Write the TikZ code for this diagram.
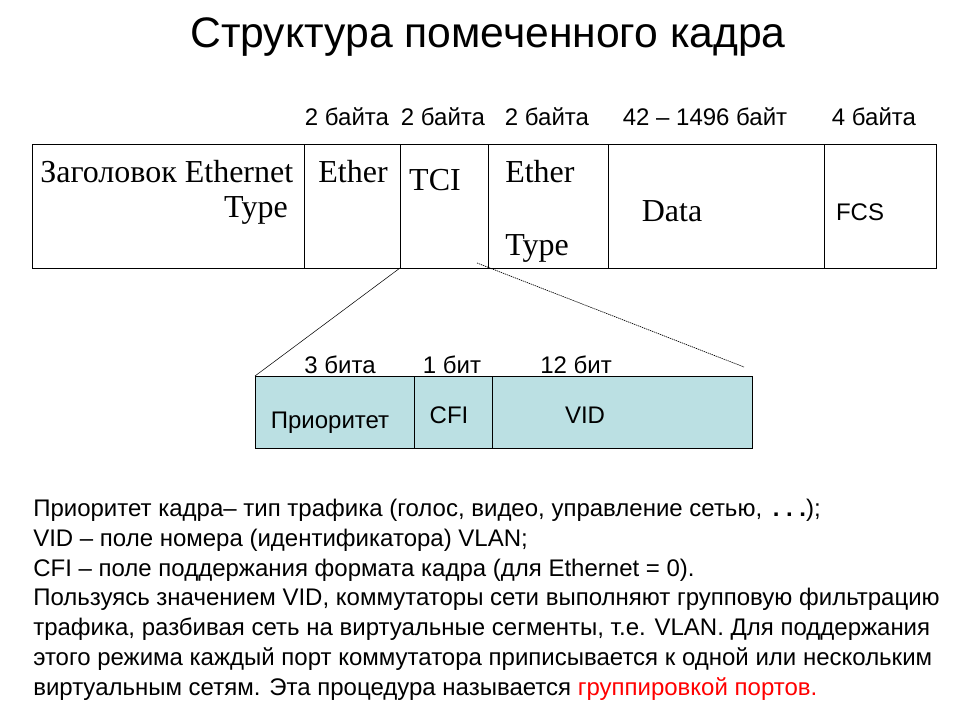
\documentclass[tikz,border=0pt]{standalone}
\usepackage{fontspec}
\setmainfont{Liberation Sans}
\newfontfamily\serifface{Liberation Serif}
\usetikzlibrary{positioning}
\definecolor{tagfill}{RGB}{187,224,227}
\definecolor{portred}{RGB}{255,0,0}
\tikzstyle{field}=[draw, inner sep=0pt, outer sep=0pt, minimum height=93pt, anchor=north west]
\tikzstyle{bitfield}=[draw, fill=tagfill, inner sep=0pt, outer sep=0pt, minimum height=54pt, anchor=north west]
\tikzstyle{bytelabel}=[inner sep=0pt, font=\fontsize{18}{21}\selectfont]
\tikzstyle{rmlabel}=[inner sep=0pt, font=\serifface\fontsize{24}{28}\selectfont]

\begin{document}
\begin{tikzpicture}[x=0.75pt, y=-0.75pt]
    \useasboundingbox (0,0) rectangle (960,720);
    \node[inner sep=0pt, font=\fontsize{32}{38}\selectfont] (title) at (488,37) {Структура помеченного кадра};

    % tagged frame
    \node[field, minimum width=204pt] (hdr) at (32,144) {};
    \node[field, minimum width=72pt] (eth1) at (hdr.north east) {};
    \node[field, minimum width=66pt] (tci) at (eth1.north east) {};
    \node[field, minimum width=90pt] (eth2) at (tci.north east) {};
    \node[field, minimum width=162pt] (data) at (eth2.north east) {};
    \node[field, minimum width=84pt] (fcs) at (data.north east) {};

    \node[bytelabel] (sz1) at (347,117) {2 байта};
    \node[bytelabel] (sz2) at (443,117) {2 байта};
    \node[bytelabel] (sz3) at (547,117) {2 байта};
    \node[bytelabel] (sz4) at (705,117) {42 – 1496 байт};
    \node[bytelabel] (sz5) at (874,117) {4 байта};

    \node[rmlabel, anchor=west] (hdrtxt) at (40,172) {Заголовок Ethernet};
    \node[rmlabel, anchor=east] (hdrtype) at (288,210) {Type};
    \node[rmlabel] (eth1txt) at (353,172) {Ether};
    \node[rmlabel] (tcitxt) at (435,180) {TCI};
    \node[rmlabel, anchor=west] (eth2txt) at (505,172) {Ether};
    \node[rmlabel, anchor=west] (eth2type) at (505,248) {Type};
    \node[rmlabel] (datatxt) at (672,211) {Data};
    \node[bytelabel] (fcstxt) at (860,212) {FCS};

    % TCI fields
    \node[bitfield, minimum width=119.25pt] (prio) at (255,376) {};
    \node[bitfield, minimum width=58.5pt] (cfi) at (prio.north east) {};
    \node[bitfield, minimum width=195pt] (vid) at (cfi.north east) {};

    \node[bytelabel] (bits1) at (340,365) {3 бита};
    \node[bytelabel] (bits2) at (452,365) {1 бит};
    \node[bytelabel] (bits3) at (576,365) {12 бит};
    \node[bytelabel] (priotxt) at (330,423) {Приоритет};
    \node[bytelabel] (cfitxt) at (449,415) {CFI};
    \node[bytelabel] (vidtxt) at (585,415) {VID};

    \coordinate (zoomR) at (477,263);
    \coordinate (zoomRend) at (744,367);
    \draw[thin] (tci.south west) -- (prio.north west);
    \draw[line width=0.5pt, dash pattern=on 1pt off 0.6pt] (zoomR) -- (zoomRend);

    % explanation
    \node[inner sep=0pt, anchor=north west, align=left, font=\fontsize{18}{22.3}\selectfont] (notes) at (33,499) {%
        Приоритет кадра– тип трафика (голос, видео, управление сетью, \textbf{\,.~.~.});\\
        VID – поле номера (идентификатора) VLAN;\\
        CFI – поле поддержания формата кадра (для Ethernet = 0).\\
        Пользуясь значением VID, коммутаторы сети выполняют групповую фильтрацию\\
        трафика, разбивая сеть на виртуальные сегменты, т.е. VLAN. Для поддержания\\
        этого режима каждый порт коммутатора приписывается к одной или нескольким\\
        виртуальным сетям. Эта процедура называется \textcolor{portred}{группировкой портов.}};
\end{tikzpicture}
\end{document}
